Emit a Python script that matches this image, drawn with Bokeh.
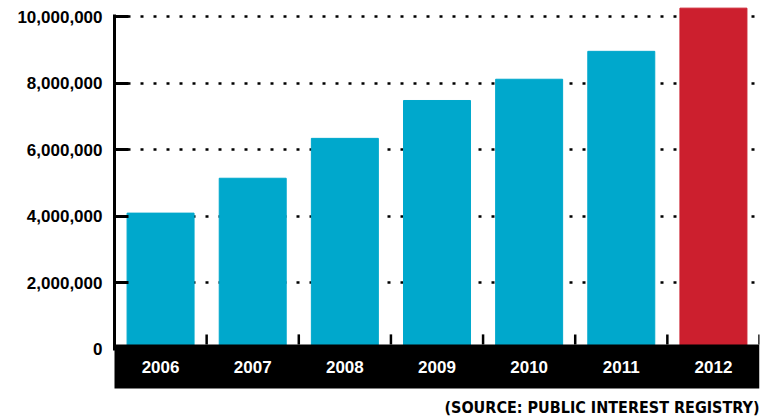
from bokeh.plotting import figure
from bokeh.models import Range1d, FixedTicker, NumeralTickFormatter, ColumnDataSource
from bokeh.core.properties import value
from bokeh.embed import file_html
from bokeh.resources import INLINE

# ---- data ----
years = ["2006", "2007", "2008", "2009", "2010", "2011", "2012"]
domains = [4090000, 5140000, 6340000, 7480000, 8120000, 8960000, 10260000]
colors = ["#00a8cc", "#00a8cc", "#00a8cc", "#00a8cc", "#00a8cc", "#00a8cc", "#cc1f2e"]
y_ticks = [0, 2000000, 4000000, 6000000, 8000000, 10000000]
source_note = "(SOURCE: PUBLIC INTEREST REGISTRY)"

xs = list(range(len(years)))
src = ColumnDataSource(dict(x=xs, top=domains, color=colors, year=years))

p = figure(width=775, height=418, output_backend="svg", toolbar_location=None,
           x_range=Range1d(-0.5, len(years) - 0.5),
           y_range=Range1d(-2092000, 10490000),
           x_axis_location=None, min_border_left=114, min_border_right=16,
           min_border_top=0, min_border_bottom=0)
p.outline_line_color = None
p.background_fill_color = "white"
p.border_fill_color = "white"

# y axis
ax = p.yaxis[0]
ax.ticker = FixedTicker(ticks=y_ticks)
ax.formatter = NumeralTickFormatter(format="0,0")
ax.bounds = (-50000, 10070000)
ax.axis_line_width = 3
ax.axis_line_color = "black"
ax.major_tick_in = 14
ax.major_tick_out = 0
ax.major_tick_line_width = 3
ax.minor_tick_line_color = None
ax.major_label_standoff = 12
ax.major_label_text_font = "Liberation Sans"
ax.major_label_text_font_style = "bold"
ax.major_label_text_font_size = "17px"
ax.major_label_text_color = "black"

# dotted grid
p.xgrid.visible = False
p.ygrid.ticker = FixedTicker(ticks=y_ticks)
p.ygrid.grid_line_color = "black"
p.ygrid.grid_line_width = 2.5
p.ygrid.grid_line_dash = "3 10"
p.ygrid.grid_line_dash_offset = 0

# bars
p.vbar(x="x", top="top", bottom=0, width=0.727, color="color", source=src)

# black category band
p.quad(left=[-0.52], right=[len(years) - 0.5], bottom=[-1190000], top=[135000],
       fill_color="black", line_color=None)

# category separators
seps = [i + 0.5 for i in xs]
p.segment(x0=seps, y0=[135000] * len(seps), x1=seps, y1=[440000] * len(seps),
          line_color="black", line_width=2.5)

# year labels
p.text(x="x", y=-527000, text="year", source=src, text_color="white",
       text_font=value("Liberation Sans"), text_font_style="bold",
       text_font_size="17px", text_align="center", text_baseline="middle")

# source note
p.text(x=[len(years) - 0.5], y=[-1760000], text=[source_note], text_color="black",
       text_font=value("DejaVu Sans Condensed, Liberation Sans"), text_font_style="bold",
       text_font_size="16px", text_align="right", text_baseline="middle")

open("out.html", "w").write(file_html(p, INLINE))
